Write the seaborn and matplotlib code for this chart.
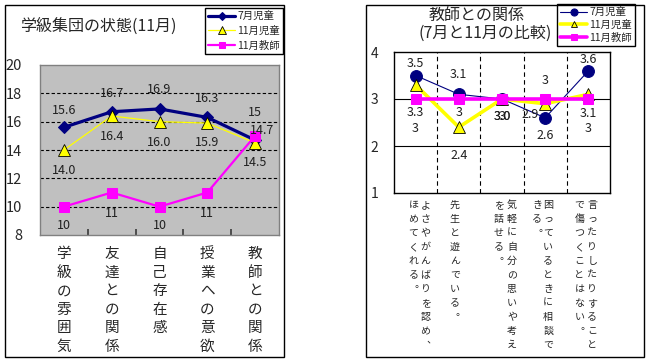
import matplotlib
matplotlib.use("Agg")
import matplotlib.pyplot as plt
import seaborn as sns
from matplotlib.patches import Rectangle

# 学級集団の状態(11月)
cats_left = ["学級の雰囲気", "友達との関係", "自己存在感", "授業への意欲", "教師との関係"]
jul_child_left = [15.6, 16.7, 16.9, 16.3, 14.7]
nov_child_left = [14.0, 16.4, 16.0, 15.9, 14.5]
nov_teacher_left = [10, 11, 10, 11, 15]

# 教師との関係(7月と11月の比較)  each label is split into vertical columns, right to left
cats_right = [["よさやがんばりを認め︑", "ほめてくれる︒"],
              ["先生と遊んでいる︒"],
              ["気軽に自分の思いや考え", "を話せる︒"],
              ["困っているときに相談で", "きる︒"],
              ["言ったりしたりすること", "で傷つくことはない︒"]]
jul_child_right = [3.5, 3.1, 3.0, 2.6, 3.6]
nov_child_right = [3.3, 2.4, 3.0, 2.9, 3.1]
nov_teacher_right = [3, 3, 3, 3, 3]

names = ["7月児童", "11月児童", "11月教師"]

sns.set_theme(style="white")
plt.rcParams['font.family'] = ['Noto Sans CJK JP', 'DejaVu Sans']

W, H = 650, 362
fig = plt.figure(figsize=(6.5, 3.62), dpi=100)
fig.patch.set_facecolor("white")


def box(x0, y0, x1, y1):
    # pixel box (top-left origin) -> figure fraction rect
    return [x0 / W, 1 - y1 / H, (x1 - x0) / W, (y1 - y0) / H]


# outer frames
for x0, x1 in [(5, 284), (366, 644)]:
    fig.patches.append(Rectangle((x0 / W, 5 / H), (x1 - x0) / W, 352 / H, transform=fig.transFigure,
                                 fill=False, edgecolor="black", linewidth=1))

navy, yellow, magenta = "#000080", "#FFFF00", "#FF00FF"
x = list(range(5))

# ---------------- left chart ----------------
ax1 = fig.add_axes(box(40, 65, 279, 235))
ax1.set_facecolor("#C0C0C0")
sns.lineplot(x=x, y=jul_child_left, ax=ax1, color=navy, lw=2.3, marker="D", ms=6,
             markeredgecolor=navy, label=names[0])
sns.lineplot(x=x, y=nov_child_left, ax=ax1, color=yellow, lw=0.9, marker="^", ms=8,
             markeredgecolor="black", markeredgewidth=0.6, label=names[1])
sns.lineplot(x=x, y=nov_teacher_left, ax=ax1, color=magenta, lw=1.6, marker="s", ms=7,
             markeredgecolor=magenta, label=names[2])
ax1.set_xlim(-0.5, 4.5)
ax1.set_ylim(8, 20)
ax1.set_yticks(range(8, 21, 2))
ax1.tick_params(axis="y", length=0, pad=13, labelsize=10.5)
for yv in range(10, 20, 2):
    ax1.axhline(yv, color="black", lw=0.8, ls=(0, (3, 2)), zorder=0.5)
for s in ax1.spines.values():
    s.set_color("#808080")
    s.set_linewidth(1)
ax1.set_xticks([0.5, 1.5, 2.5, 3.5])
ax1.set_xticklabels([])
ax1.tick_params(axis="x", direction="in", length=4, color="#404040", bottom=True)
for i, c in enumerate(cats_left):
    ax1.annotate("\n".join(c), (i, 0), xycoords=("data", "axes fraction"), xytext=(0, -12),
                 textcoords="offset pixels", ha="center", va="top", fontsize=10.5, linespacing=1.42)

off_left = {
    0: [(0, -17), (0, -18), (0, -19), (0, -19), (7, -10)],
    1: [(0, 21), (0, 21), (0, 21), (0, 19), (0, 20)],
    2: [(0, 19), (0, 21), (0, 19), (0, 21), (0, -23)],
}
for k, (vals, fmt) in enumerate([(jul_child_left, "{:.1f}"), (nov_child_left, "{:.1f}"),
                                 (nov_teacher_left, "{:d}")]):
    for i, v in enumerate(vals):
        dx, dy = off_left[k][i]
        ax1.annotate(fmt.format(v), (i, v), xytext=(dx, -dy), textcoords="offset pixels",
                     ha="center", va="center", fontsize=9, color="#202020")
leg1 = ax1.legend(loc="upper left", bbox_to_anchor=(205 / W, 1 - 8 / H), bbox_transform=fig.transFigure,
                  borderaxespad=0, fancybox=False, frameon=True, edgecolor="black", framealpha=1,
                  fontsize=7.5, handlelength=2.6, handletextpad=0.2, labelspacing=0.45, borderpad=0.3,
                  markerscale=0.7)
leg1.get_frame().set_linewidth(1)
fig.text(20 / W, 1 - 26 / H, "学級集団の状態(11月)", fontsize=11.5, va="center", ha="left")

# ---------------- right chart ----------------
ax2 = fig.add_axes(box(394, 52, 610, 193))
ax2.set_facecolor("white")
sns.lineplot(x=x, y=jul_child_right, ax=ax2, color=navy, lw=0.8, marker="o", ms=8.5,
             markeredgecolor=navy, label=names[0])
sns.lineplot(x=x, y=nov_child_right, ax=ax2, color=yellow, lw=2.6, marker="^", ms=8,
             markeredgecolor="black", markeredgewidth=0.6, label=names[1])
sns.lineplot(x=x, y=nov_teacher_right, ax=ax2, color=magenta, lw=2.6, marker="s", ms=7.5,
             markeredgecolor=magenta, label=names[2])
ax2.set_xlim(-0.5, 4.5)
ax2.set_ylim(1, 4)
ax2.set_yticks([1, 2, 3, 4])
ax2.tick_params(axis="y", length=0, pad=17, labelsize=10)
for yl in ax2.get_yticklabels():
    yl.set_horizontalalignment("left")
for yv in [2, 3]:
    ax2.axhline(yv, color="black", lw=0.8, zorder=0.5)
for xv in [0.5, 1.5, 2.5, 3.5]:
    ax2.axvline(xv, color="black", lw=0.8, ls=(0, (4, 3)), zorder=0.5)
for s in ax2.spines.values():
    s.set_color("black")
    s.set_linewidth(1)
ax2.set_xticks([])

col_dx = [[10, -2], [-4], [10, -3], [3, -8], [4, -9]]
for i, cols in enumerate(cats_right):
    for j, col in enumerate(cols):
        ax2.annotate("\n".join(col), (i, 0), xycoords=("data", "axes fraction"),
                     xytext=(col_dx[i][j], -7), textcoords="offset pixels",
                     ha="center", va="top", fontsize=7.2, linespacing=1.5)

off_right = {
    0: [(0, -12), (0, -20), (0, 18), (0, 18), (0, -11)],
    1: [(0, 28), (0, 28), (0, 18), (-15, 11), (0, 19)],
    2: [(0, 29), (0, 14), (0, 18), (0, -18), (0, 29)],
}
for k, (vals, fmt) in enumerate([(jul_child_right, "{:.1f}"), (nov_child_right, "{:.1f}"),
                                 (nov_teacher_right, "{:d}")]):
    for i, v in enumerate(vals):
        dx, dy = off_right[k][i]
        ax2.annotate(fmt.format(v), (i, v), xytext=(dx, -dy), textcoords="offset pixels",
                     ha="center", va="center", fontsize=9, color="#202020")
leg2 = ax2.legend(loc="upper left", bbox_to_anchor=(557 / W, 1 - 4 / H), bbox_transform=fig.transFigure,
                  borderaxespad=0, fancybox=False, frameon=True, edgecolor="black", framealpha=1,
                  fontsize=7.5, handlelength=2.6, handletextpad=0.2, labelspacing=0.25, borderpad=0.3,
                  markerscale=0.6)
leg2.get_frame().set_linewidth(1)
fig.text(477 / W, 1 - 15 / H, "教師との関係", fontsize=11.5, va="center", ha="center")
fig.text(485 / W, 1 - 33 / H, "(7月と11月の比較)", fontsize=11.5, va="center", ha="center")

fig.savefig("out.png", dpi=100, facecolor="white")
